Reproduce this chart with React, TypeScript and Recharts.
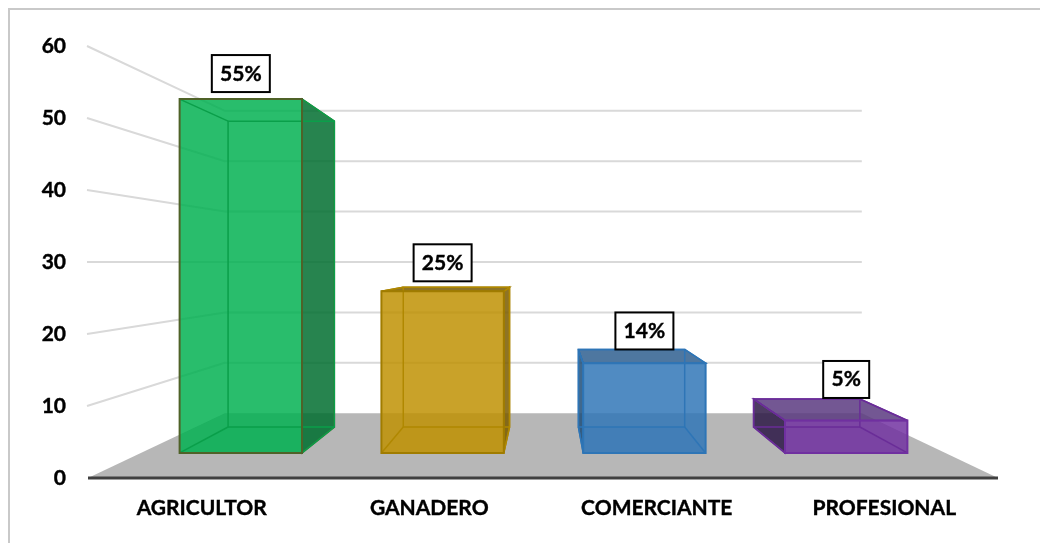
import React from "react";
import { BarChart, Bar, XAxis, YAxis, CartesianGrid, LabelList } from "recharts";

const categories = ["AGRICULTOR", "GANADERO", "COMERCIANTE", "PROFESIONAL"];
const values = [55.6, 25.4, 14.1, 5.1];
const percentLabels = ["55%", "25%", "14%", "5%"];
const yTicks = [0, 10, 20, 30, 40, 50, 60];

const frontColors = ["#00B050", "#BF9000", "#2E75B6", "#7030A0"];
const sideColors = ["#016E30", "#7A5C00", "#1F4E79", "#2E1A47"];
const topColors = ["#016E30", "#7A5C00", "#2F5F8F", "#5B3A80"];
const edgeColors = ["#4F6228", "#A07C00", "#2E75B6", "#7030A0"];
const innerColors = ["#0A9F4A", "#B08800", "#2E75B6", "#6A2D98"];
const labelGaps = [7, 6, 0, 1];

const rows = categories.map((name, i) => ({
  name,
  value: values[i],
  label: percentLabels[i],
  index: i,
}));

// perspective, in svg coordinates
const VX = 536;
const BAR_VX = 539;
const VY = 254;
const WALL = 0.7;
const BAR_FRONT_X = 0.887;
const BAR_BACK_X = 0.77;
const BAR_FRONT_Y = 0.884;
const BAR_BACK_Y = 0.764;
const wx = (x: number) => VX + (x - VX) * WALL;
const bx = (x: number, f: number) => BAR_VX + (x - BAR_VX) * f;
const py = (y: number, f: number) => VY + (y - VY) * f;

const pts = (list: number[][]) => list.map((p) => p.join(",")).join(" ");

const WallLine = (props: any) => {
  const { x1, x2, y1, index } = props;
  const isFloor = Math.abs(y1 - 470) < 0.6;
  const bx1 = wx(x1);
  const bx2 = wx(x2);
  const by = py(y1, WALL);
  return (
    <g key={`wall-${index}`}>
      {isFloor ? (
        <polygon points={pts([[x1, y1], [x2, y1], [bx2, by], [bx1, by]])} fill="#B7B7B7" />
      ) : (
        <polyline
          points={pts([[x1 - 1, y1], [bx1, by], [bx2, by]])}
          fill="none"
          stroke="#D9D9D9"
          strokeWidth={2}
        />
      )}
    </g>
  );
};

const Box3D = (props: any) => {
  const { x, y, width, height, payload } = props;
  const i = payload.index;
  const bottom = y + height;
  const l = x;
  const r = x + width;
  const fl = bx(l, BAR_FRONT_X);
  const fr = bx(r, BAR_FRONT_X);
  const bl = bx(l, BAR_BACK_X);
  const br = bx(r, BAR_BACK_X);
  const ft = py(y, BAR_FRONT_Y);
  const fb = py(bottom, BAR_FRONT_Y);
  const bt = py(y, BAR_BACK_Y);
  const bb = py(bottom, BAR_BACK_Y);
  const inner = innerColors[i];
  const edge = edgeColors[i];
  return (
    <g>
      <polygon
        points={pts([[fl, fb], [fr, fb], [br, bb], [bl, bb]])}
        fill={frontColors[i]}
        fillOpacity={0.1}
      />
      {br > fr && (
        <polygon
          points={pts([[fr, ft], [br, bt], [br, bb], [fr, fb]])}
          fill={sideColors[i]}
          fillOpacity={0.85}
          stroke={edge}
          strokeWidth={1.5}
        />
      )}
      {bl < fl && (
        <polygon
          points={pts([[fl, ft], [bl, bt], [bl, bb], [fl, fb]])}
          fill={sideColors[i]}
          fillOpacity={0.85}
          stroke={edge}
          strokeWidth={1.5}
        />
      )}
      {bt < ft && (
        <polygon
          points={pts([[fl, ft], [fr, ft], [br, bt], [bl, bt]])}
          fill={topColors[i]}
          fillOpacity={0.85}
          stroke={edge}
          strokeWidth={1.5}
        />
      )}
      <polygon
        points={pts([[fl, ft], [fr, ft], [fr, fb], [fl, fb]])}
        fill={frontColors[i]}
        fillOpacity={0.84}
      />
      <g fill="none" stroke={inner} strokeWidth={1.5}>
        <polygon points={pts([[bl, bt], [br, bt], [br, bb], [bl, bb]])} />
        <line x1={fl} y1={ft} x2={bl} y2={bt} />
        <line x1={fr} y1={ft} x2={br} y2={bt} />
        <line x1={fl} y1={fb} x2={bl} y2={bb} />
        <line x1={fr} y1={fb} x2={br} y2={bb} />
      </g>
      <polygon
        points={pts([[fl, ft], [fr, ft], [fr, fb], [fl, fb]])}
        fill="none"
        stroke={edge}
        strokeWidth={2}
      />
    </g>
  );
};

const PercentBox = (props: any) => {
  const { index, value } = props;
  const v = props.viewBox ?? props;
  const cx = bx(v.x + v.width / 2, BAR_FRONT_X);
  const top = Math.min(py(v.y, BAR_FRONT_Y), py(v.y, BAR_BACK_Y));
  const boxBottom = top - labelGaps[index];
  const w = String(value).length > 2 ? 58 : 46;
  const h = 37;
  return (
    <g>
      <rect
        x={cx - w / 2}
        y={boxBottom - h}
        width={w}
        height={h}
        fill="#FFFFFF"
        stroke="#000000"
        strokeWidth={2}
      />
      <text
        x={cx}
        y={boxBottom - h / 2 + 7}
        textAnchor="middle"
        fontFamily="Lato, sans-serif"
        fontWeight={700}
        fontSize={21}
        fill="#000000"
        stroke="#000000"
        strokeWidth={0.4}
      >
        {value}
      </text>
    </g>
  );
};

const tickStyle = {
  fontFamily: "Lato, sans-serif",
  fontWeight: 700,
  fontSize: 21,
  fill: "#000000",
  stroke: "#000000",
  strokeWidth: 0.4,
};

export default function App() {
  return (
    <div style={{ position: "relative", width: 1032, height: 527 }}>
      <div
        style={{
          position: "fixed",
          left: 8,
          top: 8,
          right: 0,
          bottom: 0,
          boxSizing: "border-box",
          borderLeft: "2px solid #C9C9C9",
          borderTop: "2px solid #C9C9C9",
        }}
      />
      <div style={{ position: "absolute", left: 0, top: 0 }}>
        <BarChart
          width={1024}
          height={527}
          data={rows}
          margin={{ top: 38, right: 34, bottom: 0, left: 0 }}
          barCategoryGap="19.7%"
        >
          <CartesianGrid vertical={false} horizontal={WallLine as any} />
          <XAxis
            dataKey="name"
            height={57}
            interval={0}
            tickLine={false}
            tickSize={0}
            tickMargin={22}
            axisLine={{ stroke: "#404040", strokeWidth: 3 }}
            tick={tickStyle}
          />
          <YAxis
            width={80}
            domain={[0, 60]}
            ticks={yTicks}
            tickLine={false}
            tickSize={0}
            tickMargin={22}
            axisLine={false}
            tick={tickStyle}
          />
          <Bar dataKey="value" shape={Box3D as any} isAnimationActive={false}>
            <LabelList dataKey="label" content={PercentBox as any} />
          </Bar>
        </BarChart>
      </div>
    </div>
  );
}
